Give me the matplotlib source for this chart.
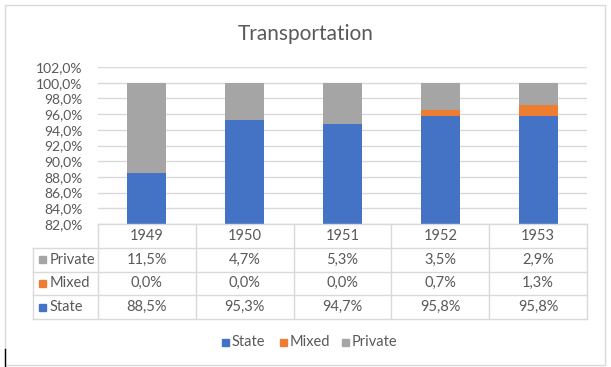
import numpy as np
import matplotlib
matplotlib.use('Agg')
import matplotlib.pyplot as plt
from matplotlib.patches import Rectangle

#%% Data
years = ['1949', '1950', '1951', '1952', '1953']
state = [88.5, 95.3, 94.7, 95.8, 95.8]
mixed = [0.0, 0.0, 0.0, 0.7, 1.3]
private = [11.5, 4.7, 5.3, 3.5, 2.9]
yticks = np.arange(82, 103, 2)

c_state, c_mixed, c_private = '#4472C4', '#ED7D31', '#A5A5A5'
grid_c = '#D9D9D9'
txt_c = '#595959'
plt.rcParams['font.family'] = ['Lato', 'DejaVu Sans']

def fmt(v):
    return f"{v:.1f}%".replace('.', ',')

W, H = 611, 367
fig = plt.figure(figsize=(W / 100, H / 100), dpi=100)

def px_axes(x0, y0, x1, y1):
    # pixel box (top-left origin) -> figure axes
    return fig.add_axes([x0 / W, 1 - y1 / H, (x1 - x0) / W, (y1 - y0) / H])

# chart border
fig.patches.append(Rectangle((4.5 / W, 1 - 365 / H), 600 / W, 360 / H, transform=fig.transFigure,
                             fill=False, edgecolor=grid_c, lw=1))
# little cursor mark at left edge
fig.add_artist(plt.Line2D([4.5 / W, 4.5 / W], [1 - 367 / H, 1 - 349 / H], color='black', lw=1))

#%% Bars
ax = px_axes(98, 67, 587, 224)
x = np.arange(len(years))
bw = 0.4
base2 = np.array(state) + np.array(mixed)
ax.bar(x, state, bw, color=c_state, zorder=3)
ax.bar(x, mixed, bw, bottom=state, color=c_mixed, zorder=3)
ax.bar(x, private, bw, bottom=base2, color=c_private, zorder=3)
ax.set_xlim(-0.5, 4.5)
ax.set_ylim(82, 102)
ax.set_yticks(yticks)
ax.set_yticklabels([fmt(v) for v in yticks], fontsize=10, color=txt_c)
ax.set_xticks([])
ax.tick_params(axis='y', length=0, pad=11)
ax.grid(axis='y', color=grid_c, lw=1, zorder=0)
for s in ax.spines.values():
    s.set_visible(False)
ax.patch.set_alpha(0)

fig.text(306 / W, 1 - 40 / H, 'Transportation', ha='center', va='baseline', fontsize=15, color=txt_c)

#%% Data table
tx = px_axes(33, 224, 587, 319)
head_w = (98 - 33) / ((587 - 98) / 5)
xl = -0.5 - head_w
tx.set_xlim(xl, 4.5)
tx.set_ylim(0, 4)
tx.axis('off')
lw = 1
tx.plot([-0.5, 4.5], [4, 4], color=grid_c, lw=lw, clip_on=False)
for yy in [0, 1, 2, 3]:
    tx.plot([xl, 4.5], [yy, yy], color=grid_c, lw=lw, clip_on=False)
for xx in np.arange(-0.5, 5, 1):
    tx.plot([xx, xx], [0, 4], color=grid_c, lw=lw, clip_on=False)
tx.plot([xl, xl], [0, 3], color=grid_c, lw=lw, clip_on=False)

for i, yr in enumerate(years):
    tx.text(i, 3.5, yr, ha='center', va='center', fontsize=10.5, color=txt_c)

rows = [('Private', private, c_private), ('Mixed', mixed, c_mixed), ('State', state, c_state)]
for r, (name, vals, col) in enumerate(rows):
    yc = 2.5 - r
    tx.add_patch(Rectangle((xl + 0.06, yc - 0.15), 0.072, 0.3, color=col, clip_on=False))
    tx.text(xl + 0.17, yc, name, ha='left', va='center', fontsize=10.5, color=txt_c)
    for i, v in enumerate(vals):
        tx.text(i, yc, fmt(v), ha='center', va='center', fontsize=10.5, color=txt_c)

#%% Legend
lg_y = 1 - 342 / H
for name, col, x0 in [('State', c_state, 222), ('Mixed', c_mixed, 280), ('Private', c_private, 342)]:
    fig.patches.append(Rectangle((x0 / W, lg_y - 3.5 / H), 7 / W, 7 / H, transform=fig.transFigure,
                                 color=col))
    fig.text((x0 + 10) / W, lg_y, name, ha='left', va='center', fontsize=10.5, color=txt_c)

fig.savefig('out.png', dpi=100)
